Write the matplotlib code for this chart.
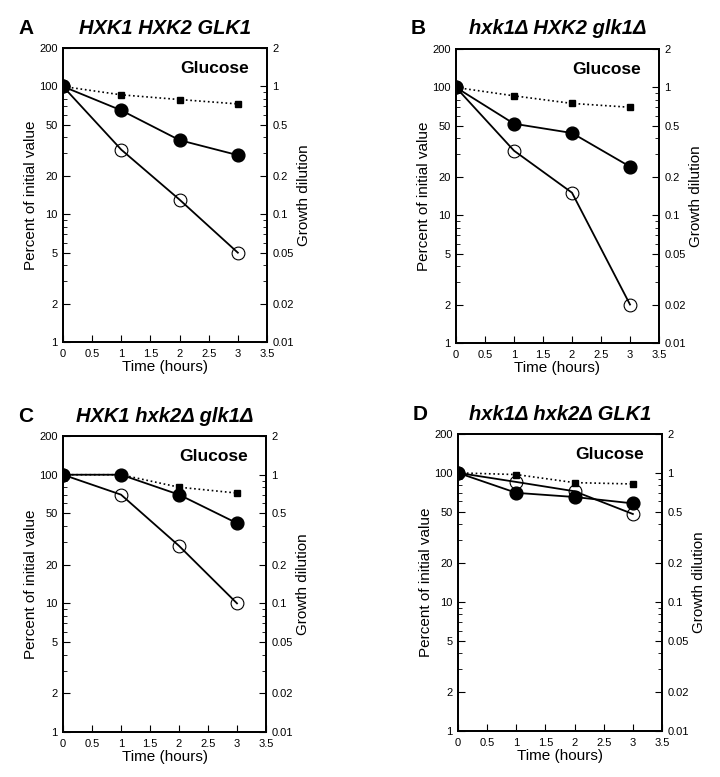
import numpy as np
import matplotlib
matplotlib.use("Agg")
import matplotlib.pyplot as plt
from matplotlib.ticker import FixedLocator, NullFormatter, LogLocator

plt.rcParams['font.family'] = ['Liberation Sans', 'DejaVu Sans']

# time points (hours)
t = [0, 1, 2, 3]

letters = ['A', 'B', 'C', 'D']
titles = ['HXK1 HXK2 GLK1', 'hxk1Δ HXK2 glk1Δ', 'HXK1 hxk2Δ glk1Δ', 'hxk1Δ hxk2Δ GLK1']

# percent of initial value, filled circles
filled = [[100, 65, 38, 29],
          [100, 52, 44, 24],
          [100, 100, 70, 42],
          [100, 70, 65, 58]]
# percent of initial value, open circles
hollow = [[100, 32, 13, 5],
          [100, 32, 15, 2],
          [100, 70, 28, 10],
          [100, 85, 72, 48]]
# growth dilution, squares (right axis)
growth = [[1, 0.86, 0.79, 0.73],
          [1, 0.86, 0.75, 0.70],
          [1, 1.0, 0.80, 0.72],
          [1, 0.97, 0.84, 0.82]]

left_ticks = [1, 2, 5, 10, 20, 50, 100, 200]
right_ticks = [0.01, 0.02, 0.05, 0.1, 0.2, 0.5, 1, 2]
x_ticks = [0, 0.5, 1, 1.5, 2, 2.5, 3, 3.5]

W, H = 720, 777
# axes boxes in pixels: left, right, top, bottom
boxes = [(63, 267, 48, 342), (456, 659, 49, 343),
         (63, 266, 436, 732), (458, 662, 434, 731)]

fig = plt.figure(figsize=(7.2, 7.77), dpi=100)

def fmt(v):
    return ('%g' % v)

for i in range(4):
    l, r, tp, b = boxes[i]
    ax = fig.add_axes([l / W, 1 - b / H, (r - l) / W, (b - tp) / H])
    ax2 = ax.twinx()

    ax.set_yscale('log')
    ax.set_ylim(1, 200)
    ax.set_xlim(0, 3.5)
    ax.set_xticks(x_ticks)
    ax.set_xticklabels([fmt(v) for v in x_ticks])
    ax.yaxis.set_major_locator(FixedLocator(left_ticks))
    ax.set_yticklabels([fmt(v) for v in left_ticks])
    ax.yaxis.set_minor_locator(LogLocator(base=10, subs=np.arange(2, 10)))
    ax.yaxis.set_minor_formatter(NullFormatter())

    ax2.set_yscale('log')
    ax2.set_ylim(0.01, 2)
    ax2.yaxis.set_major_locator(FixedLocator(right_ticks))
    ax2.set_yticklabels([fmt(v) for v in right_ticks])
    ax2.yaxis.set_minor_locator(LogLocator(base=10, subs=np.arange(2, 10)))
    ax2.yaxis.set_minor_formatter(NullFormatter())

    for a in (ax, ax2):
        a.tick_params(which='major', direction='in', length=5, width=0.8,
                      labelsize=8, pad=4)
        a.tick_params(which='minor', direction='in', length=3, width=0.6)
        for s in a.spines.values():
            s.set_linewidth(1.3)
    ax.tick_params(axis='x', pad=5)

    ax.plot(t, hollow[i], '-', color='black', lw=1.3, marker='o', ms=9.2,
            mfc='none', mec='black', mew=0.8, zorder=3)
    ax.plot(t, filled[i], '-', color='black', lw=1.3, marker='o', ms=9.2,
            mfc='black', mec='black', zorder=4)
    ax2.plot(t, growth[i], ':', color='black', lw=1.2, marker='s', ms=4.5,
             mfc='black', mec='black', zorder=5)

    ax.set_ylabel('Percent of initial value', fontsize=11, labelpad=1)
    ax2.set_ylabel('Growth dilution', fontsize=11, labelpad=2)
    ax.set_xlabel('Time (hours)', fontsize=11, labelpad=1)

    ax.text(0.91, 0.93, 'Glucose', transform=ax.transAxes, ha='right',
            va='center', fontsize=12.5, fontweight='bold')

    cx = (l + r) / 2 / W
    fig.text(cx, 1 - (tp - 20) / H, titles[i], ha='center', va='center',
             fontsize=14.5, fontweight='bold', fontstyle='italic')
    fig.text((l - 45) / W, 1 - (tp - 20) / H, letters[i], ha='left',
             va='center', fontsize=15, fontweight='bold')

fig.savefig('out.png', dpi=100)
